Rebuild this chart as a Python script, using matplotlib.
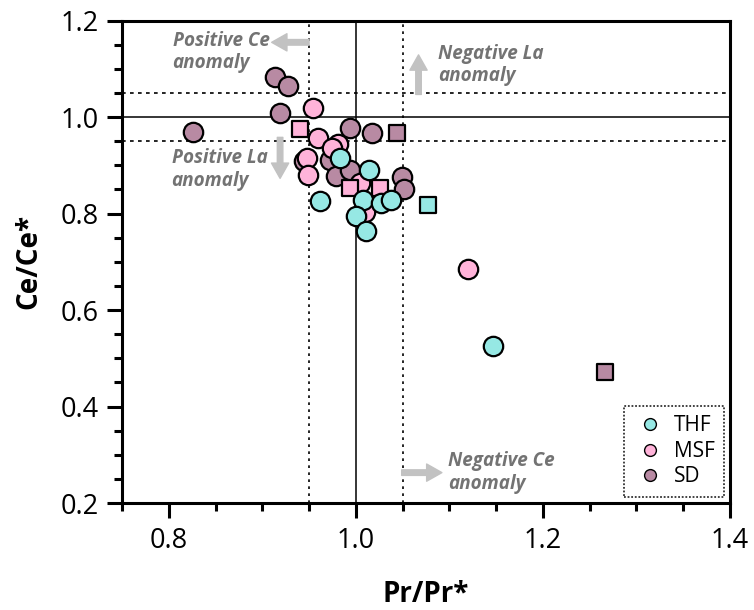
import matplotlib.pyplot as plt
from matplotlib.patches import FancyArrowPatch
from matplotlib.lines import Line2D
from matplotlib.ticker import MultipleLocator

plt.rcParams['font.family'] = ['Open Sans', 'DejaVu Sans']

# THF samples (circles + one square)
thf_x = [0.983, 1.014, 0.962, 1.008, 1.027, 1.038, 1.000, 1.011, 1.147]
thf_y = [0.916, 0.891, 0.827, 0.829, 0.822, 0.829, 0.795, 0.764, 0.525]
thf_sq_x = [1.077]
thf_sq_y = [0.817]

# MSF samples
msf_x = [0.954, 0.960, 0.981, 0.975, 0.948, 0.949, 1.004, 1.010, 1.120]
msf_y = [1.019, 0.957, 0.945, 0.935, 0.916, 0.879, 0.864, 0.803, 0.686]
msf_sq_x = [0.940, 0.994, 1.026]
msf_sq_y = [0.976, 0.853, 0.853]

# SD samples
sd_x = [0.914, 0.927, 0.919, 0.826, 0.994, 1.017, 0.945, 0.972, 0.979, 0.994, 1.049, 1.051]
sd_y = [1.083, 1.064, 1.009, 0.969, 0.978, 0.966, 0.908, 0.912, 0.877, 0.891, 0.875, 0.851]
sd_sq_x = [1.044, 1.266]
sd_sq_y = [0.968, 0.472]

c_thf = '#96e8e4'
c_msf = '#ffb3d9'
c_sd = '#b88aa3'
txt_gray = '#737373'
arr_gray = '#c2c2c2'

fig = plt.figure(figsize=(7.54, 6.1), dpi=100)
ax = fig.add_axes([0.1618, 0.1754, 0.8064, 0.7908])

ax.set_xlim(0.75, 1.4)
ax.set_ylim(0.2, 1.2)

# reference lines
ax.axvline(1.0, color='black', lw=1.1, zorder=1)
ax.axhline(1.0, color='black', lw=1.1, zorder=1)
for v in [0.95, 1.05]:
    ax.axvline(v, color='black', lw=1.2, ls=(0, (1.6, 2.6)), zorder=1)
    ax.axhline(v, color='black', lw=1.2, ls=(0, (2.2, 2.6)), zorder=1)

circ = dict(marker='o', s=195, edgecolors='black', linewidths=1.6, zorder=3)
sq = dict(marker='s', s=125, edgecolors='black', linewidths=1.6, zorder=3)
ax.scatter(sd_x, sd_y, c=c_sd, **circ)
ax.scatter(sd_sq_x, sd_sq_y, c=c_sd, **sq)
ax.scatter(msf_x, msf_y, c=c_msf, **circ)
ax.scatter(msf_sq_x, msf_sq_y, c=c_msf, **sq)
ax.scatter(thf_x, thf_y, c=c_thf, **circ)
ax.scatter(thf_sq_x, thf_sq_y, c=c_thf, **sq)

# anomaly arrows and labels
arrows = [((0.950, 1.155), (0.910, 1.155)),
          ((1.067, 1.047), (1.067, 1.129)),
          ((0.919, 0.958), (0.919, 0.873)),
          ((1.049, 0.263), (1.092, 0.263))]
for tail, tip in arrows:
    ax.add_patch(FancyArrowPatch(tail, tip, arrowstyle='simple,head_width=0.62,head_length=0.55,tail_width=0.2',
                                 mutation_scale=20, color=arr_gray, shrinkA=0, shrinkB=0, zorder=2))

labels = [(0.804, 1.178, 'Positive Ce\nanomaly'),
          (1.088, 1.152, 'Negative La\nanomaly'),
          (0.803, 0.935, 'Positive La\nanomaly'),
          (1.099, 0.307, 'Negative Ce\nanomaly')]
for x, y, t in labels:
    ax.text(x, y, t, ha='left', va='top', fontsize=13.6, fontstyle='italic', fontweight='bold',
            color=txt_gray, linespacing=1.15, zorder=2)

# axes styling
ax.set_xticks([0.8, 1.0, 1.2, 1.4])
ax.set_xticklabels(['0.8', '1.0', '1.2', '1.4'])
ax.set_yticks([0.2, 0.4, 0.6, 0.8, 1.0, 1.2])
ax.set_yticklabels(['0.2', '0.4', '0.6', '0.8', '1.0', '1.2'])
ax.xaxis.set_minor_locator(MultipleLocator(0.05))
ax.yaxis.set_minor_locator(MultipleLocator(0.05))
ax.tick_params(which='major', direction='out', length=11, width=2.2, labelsize=19.5, pad=6)
ax.tick_params(which='minor', direction='out', length=6, width=2.2)
for sp in ax.spines.values():
    sp.set_linewidth(2.2)

ax.set_xlabel('Pr/Pr*', fontsize=20, fontweight='bold', labelpad=18)
ax.set_ylabel('Ce/Ce*', fontsize=20, fontweight='bold', labelpad=12)

handles = [Line2D([], [], ls='none', marker='o', ms=8.5, mfc=c, mec='black', mew=1.0)
           for c in [c_thf, c_msf, c_sd]]
leg = ax.legend(handles, ['THF', 'MSF', 'SD'], loc='lower right', fontsize=15, frameon=True,
                fancybox=False, borderaxespad=0.3, labelspacing=0.22, handletextpad=0.35,
                handlelength=1.6, borderpad=0.45)
leg.get_frame().set_edgecolor('black')
leg.get_frame().set_linestyle((0, (1, 1)))
leg.get_frame().set_linewidth(1.3)

fig.savefig('out.png', dpi=100)
